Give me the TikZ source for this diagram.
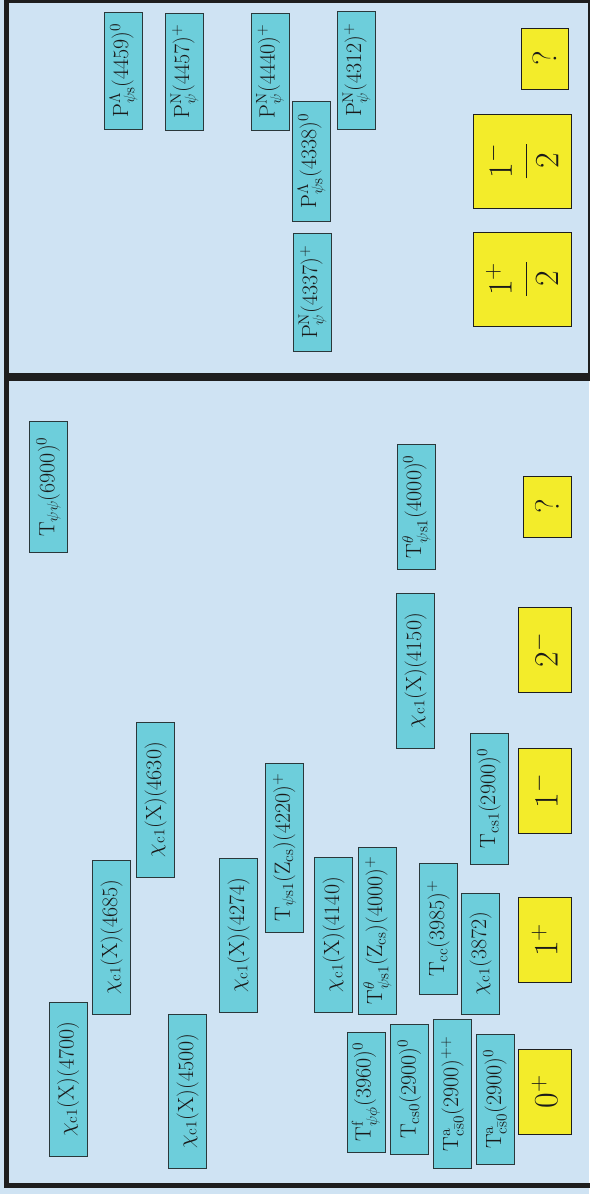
\RequirePackage{fix-cm}
\documentclass[tikz,border=0pt]{standalone}
\usepackage{amsmath,amssymb}
\usepackage{tikz}
\usetikzlibrary{positioning}
\definecolor{HadBgBlue}{HTML}{CFE3F3}
\definecolor{HadFrame}{HTML}{1E1E1E}
\definecolor{HadCyan}{HTML}{6DCEDB}
\definecolor{HadYellow}{HTML}{F3EC2A}
\definecolor{HadText}{HTML}{1A1A1A}
\begin{document}
\begin{tikzpicture}[x=1pt,y=-1pt,font=\fontsize{22pt}{26pt}\selectfont,
      st/.style={draw=HadFrame!85!HadCyan,fill=HadCyan,line width=0.8pt,rotate=90,minimum height=38pt,inner xsep=4pt,inner ysep=2pt,text=HadText},
      jp/.style={draw=HadFrame,fill=HadYellow,line width=1pt,rotate=90,minimum width=85pt,minimum height=53pt,text=HadText,font=\fontsize{34pt}{38pt}\selectfont},
      frm/.style={draw=HadFrame,line width=5pt}]
      \useasboundingbox (0,0) rectangle (589,1194);
      \fill[HadBgBlue] (0,0) rectangle (589,1194);
      \draw[frm] (6.5,0) rectangle (590,375.5);
      \draw[frm] (6.5,378) rectangle (594,1185);
      \node[st,minimum width=117pt] (p4459) at (123.5,70.5) {$\mathrm{P}^{\Lambda}_{\psi\mathrm{s}}(4459)^0$};
      \node[st,minimum width=117pt] (p4457) at (184.5,71.5) {$\mathrm{P}^{\mathrm{N}}_{\psi}(4457)^+$};
      \node[st,minimum width=117pt] (p4440) at (270,71.5) {$\mathrm{P}^{\mathrm{N}}_{\psi}(4440)^+$};
      \node[st,minimum width=120pt] (p4338) at (311.5,161) {$\mathrm{P}^{\Lambda}_{\psi\mathrm{s}}(4338)^0$};
      \node[st,minimum width=118pt] (p4312) at (356.5,70) {$\mathrm{P}^{\mathrm{N}}_{\psi}(4312)^+$};
      \node[st,minimum width=118pt] (p4337) at (312.5,292) {$\mathrm{P}^{\mathrm{N}}_{\psi}(4337)^+$};
      \node[jp,minimum width=61pt,minimum height=47pt] (qtop) at (544.5,58.5) {$?$};
      \node[jp,minimum width=94pt,minimum height=98pt] (halfm) at (522,161) {$\dfrac{1^-}{2}$};
      \node[jp,minimum width=94pt,minimum height=98pt] (halfp) at (522,279) {$\dfrac{1^+}{2}$};
      \node[st,minimum width=131pt] (t6900) at (48.5,487) {$\mathrm{T}_{\psi\psi}(6900)^0$};
      \node[st,minimum width=125pt] (tt4000) at (416.5,506.5) {$\mathrm{T}^{\theta}_{\psi\mathrm{s1}}(4000)^0$};
      \node[st,minimum width=155pt] (x4150) at (415.5,670.5) {$\chi_{\mathrm{c1}}(\mathrm{X})(4150)$};
      \node[st,minimum width=155pt] (x4630) at (155.5,799.5) {$\chi_{\mathrm{c1}}(\mathrm{X})(4630)$};
      \node[st,minimum width=169pt] (t4220) at (284.5,847.5) {$\mathrm{T}_{\psi\mathrm{s1}}(\mathrm{Z_{cs}})(4220)^+$};
      \node[st,minimum width=131pt] (tcs1) at (489,798.5) {$\mathrm{T}_{\mathrm{cs1}}(2900)^0$};
      \node[st,minimum width=154pt] (x4685) at (111.5,937) {$\chi_{\mathrm{c1}}(\mathrm{X})(4685)$};
      \node[st,minimum width=154pt] (x4700) at (68,1079) {$\chi_{\mathrm{c1}}(\mathrm{X})(4700)$};
      \node[st,minimum width=154pt] (x4500) at (187.5,1091) {$\chi_{\mathrm{c1}}(\mathrm{X})(4500)$};
      \node[st,minimum width=154pt] (x4274) at (238.5,935) {$\chi_{\mathrm{c1}}(\mathrm{X})(4274)$};
      \node[st,minimum width=155pt] (x4140) at (333.5,934.5) {$\chi_{\mathrm{c1}}(\mathrm{X})(4140)$};
      \node[st,minimum width=167pt] (tz4000) at (377.5,930.5) {$\mathrm{T}^{\theta}_{\psi\mathrm{s1}}(\mathrm{Z_{cs}})(4000)^+$};
      \node[st,minimum width=131pt] (tcc) at (438.5,928.5) {$\mathrm{T}_{\mathrm{cc}}(3985)^+$};
      \node[st,minimum width=121pt] (x3872) at (480.5,953.5) {$\chi_{\mathrm{c1}}(3872)$};
      \node[st,minimum width=120pt] (t3960) at (366,1092) {$\mathrm{T}^{\mathrm{f}}_{\psi\phi}(3960)^0$};
      \node[st,minimum width=130pt] (tcs0) at (409.5,1089) {$\mathrm{T}_{\mathrm{cs0}}(2900)^0$};
      \node[st,minimum width=149pt] (tapp) at (452.5,1093.5) {$\mathrm{T}^{\mathrm{a}}_{\mathrm{c\bar{s}0}}(2900)^{++}$};
      \node[st,minimum width=130pt] (ta0) at (495,1099) {$\mathrm{T}^{\mathrm{a}}_{\mathrm{c\bar{s}0}}(2900)^0$};
      \node[jp,minimum width=61pt,minimum height=48pt] (qbot) at (547,506.5) {$?$};
      \node[jp] (jp2m) at (544.5,650) {$2^-$};
      \node[jp] (jp1m) at (544.5,791) {$1^-$};
      \node[jp] (jp1p) at (544.5,940) {$1^+$};
      \node[jp] (jp0p) at (544.5,1091.5) {$0^+$};
    \end{tikzpicture}
\end{document}
